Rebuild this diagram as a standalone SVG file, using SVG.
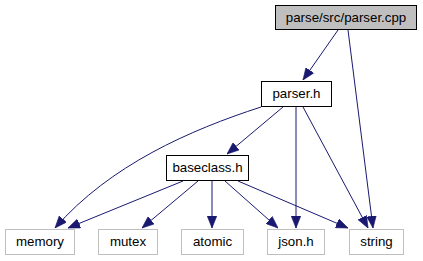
<svg xmlns="http://www.w3.org/2000/svg" width="423" height="261" viewBox="0 0 423 261">
  <style>
    .node rect { stroke-width: 1; }
    .main rect { fill: #bfbfbf; stroke: #000000; }
    .inc rect { fill: #ffffff; stroke: #000000; }
    .ext rect { fill: #ffffff; stroke: #bfbfbf; }
    text { font-family: "Liberation Sans", Arial, Helvetica, sans-serif; font-size: 13.3px; fill: #000000; text-anchor: middle; }
    .edge { fill: none; stroke: #191970; stroke-width: 1; marker-end: url(#arrow); }
  </style>
  <defs>
    <marker id="arrow" markerUnits="userSpaceOnUse" markerWidth="12" markerHeight="10" viewBox="0 0 10 8" refX="10" refY="4" orient="auto">
      <path d="M0,0 L10,4 L0,8 Z" fill="#191970" stroke="#191970" stroke-width="0.5"/>
    </marker>
  </defs>

  <g id="edges">
    <path class="edge" d="M338,30 L303,80"/>
    <path class="edge" d="M348,30 L373,228"/>
    <path class="edge" d="M261,107 C190,130 110,165 55,228"/>
    <path class="edge" d="M283,107 L227,154"/>
    <path class="edge" d="M296,107 L296,228"/>
    <path class="edge" d="M303,107 L368,228"/>
    <path class="edge" d="M183,181 L68,228"/>
    <path class="edge" d="M198,181 L142,228"/>
    <path class="edge" d="M212,181 L212,228"/>
    <path class="edge" d="M225,181 L278,228"/>
    <path class="edge" d="M238,181 L348,228"/>
  </g>

  <g id="node-parser-cpp" class="node main">
    <rect x="275.5" y="5.5" width="141" height="24"/>
    <text x="346" y="22">parse/src/parser.cpp</text>
  </g>
  <g id="node-parser-h" class="node inc">
    <rect x="261.5" y="81.5" width="70" height="25"/>
    <text x="296.5" y="98">parser.h</text>
  </g>
  <g id="node-baseclass-h" class="node inc">
    <rect x="166.5" y="155.5" width="82" height="25"/>
    <text x="207.5" y="172">baseclass.h</text>
  </g>
  <g id="node-memory" class="node ext">
    <rect x="5.5" y="229.5" width="69" height="25"/>
    <text x="40" y="246">memory</text>
  </g>
  <g id="node-mutex" class="node ext">
    <rect x="98.5" y="229.5" width="59" height="25"/>
    <text x="128" y="246">mutex</text>
  </g>
  <g id="node-atomic" class="node ext">
    <rect x="181.5" y="229.5" width="62" height="25"/>
    <text x="212.5" y="246">atomic</text>
  </g>
  <g id="node-json-h" class="node ext">
    <rect x="267.5" y="229.5" width="57" height="25"/>
    <text x="296" y="246">json.h</text>
  </g>
  <g id="node-string" class="node ext">
    <rect x="349.5" y="229.5" width="54" height="25"/>
    <text x="376.5" y="246">string</text>
  </g>
</svg>
